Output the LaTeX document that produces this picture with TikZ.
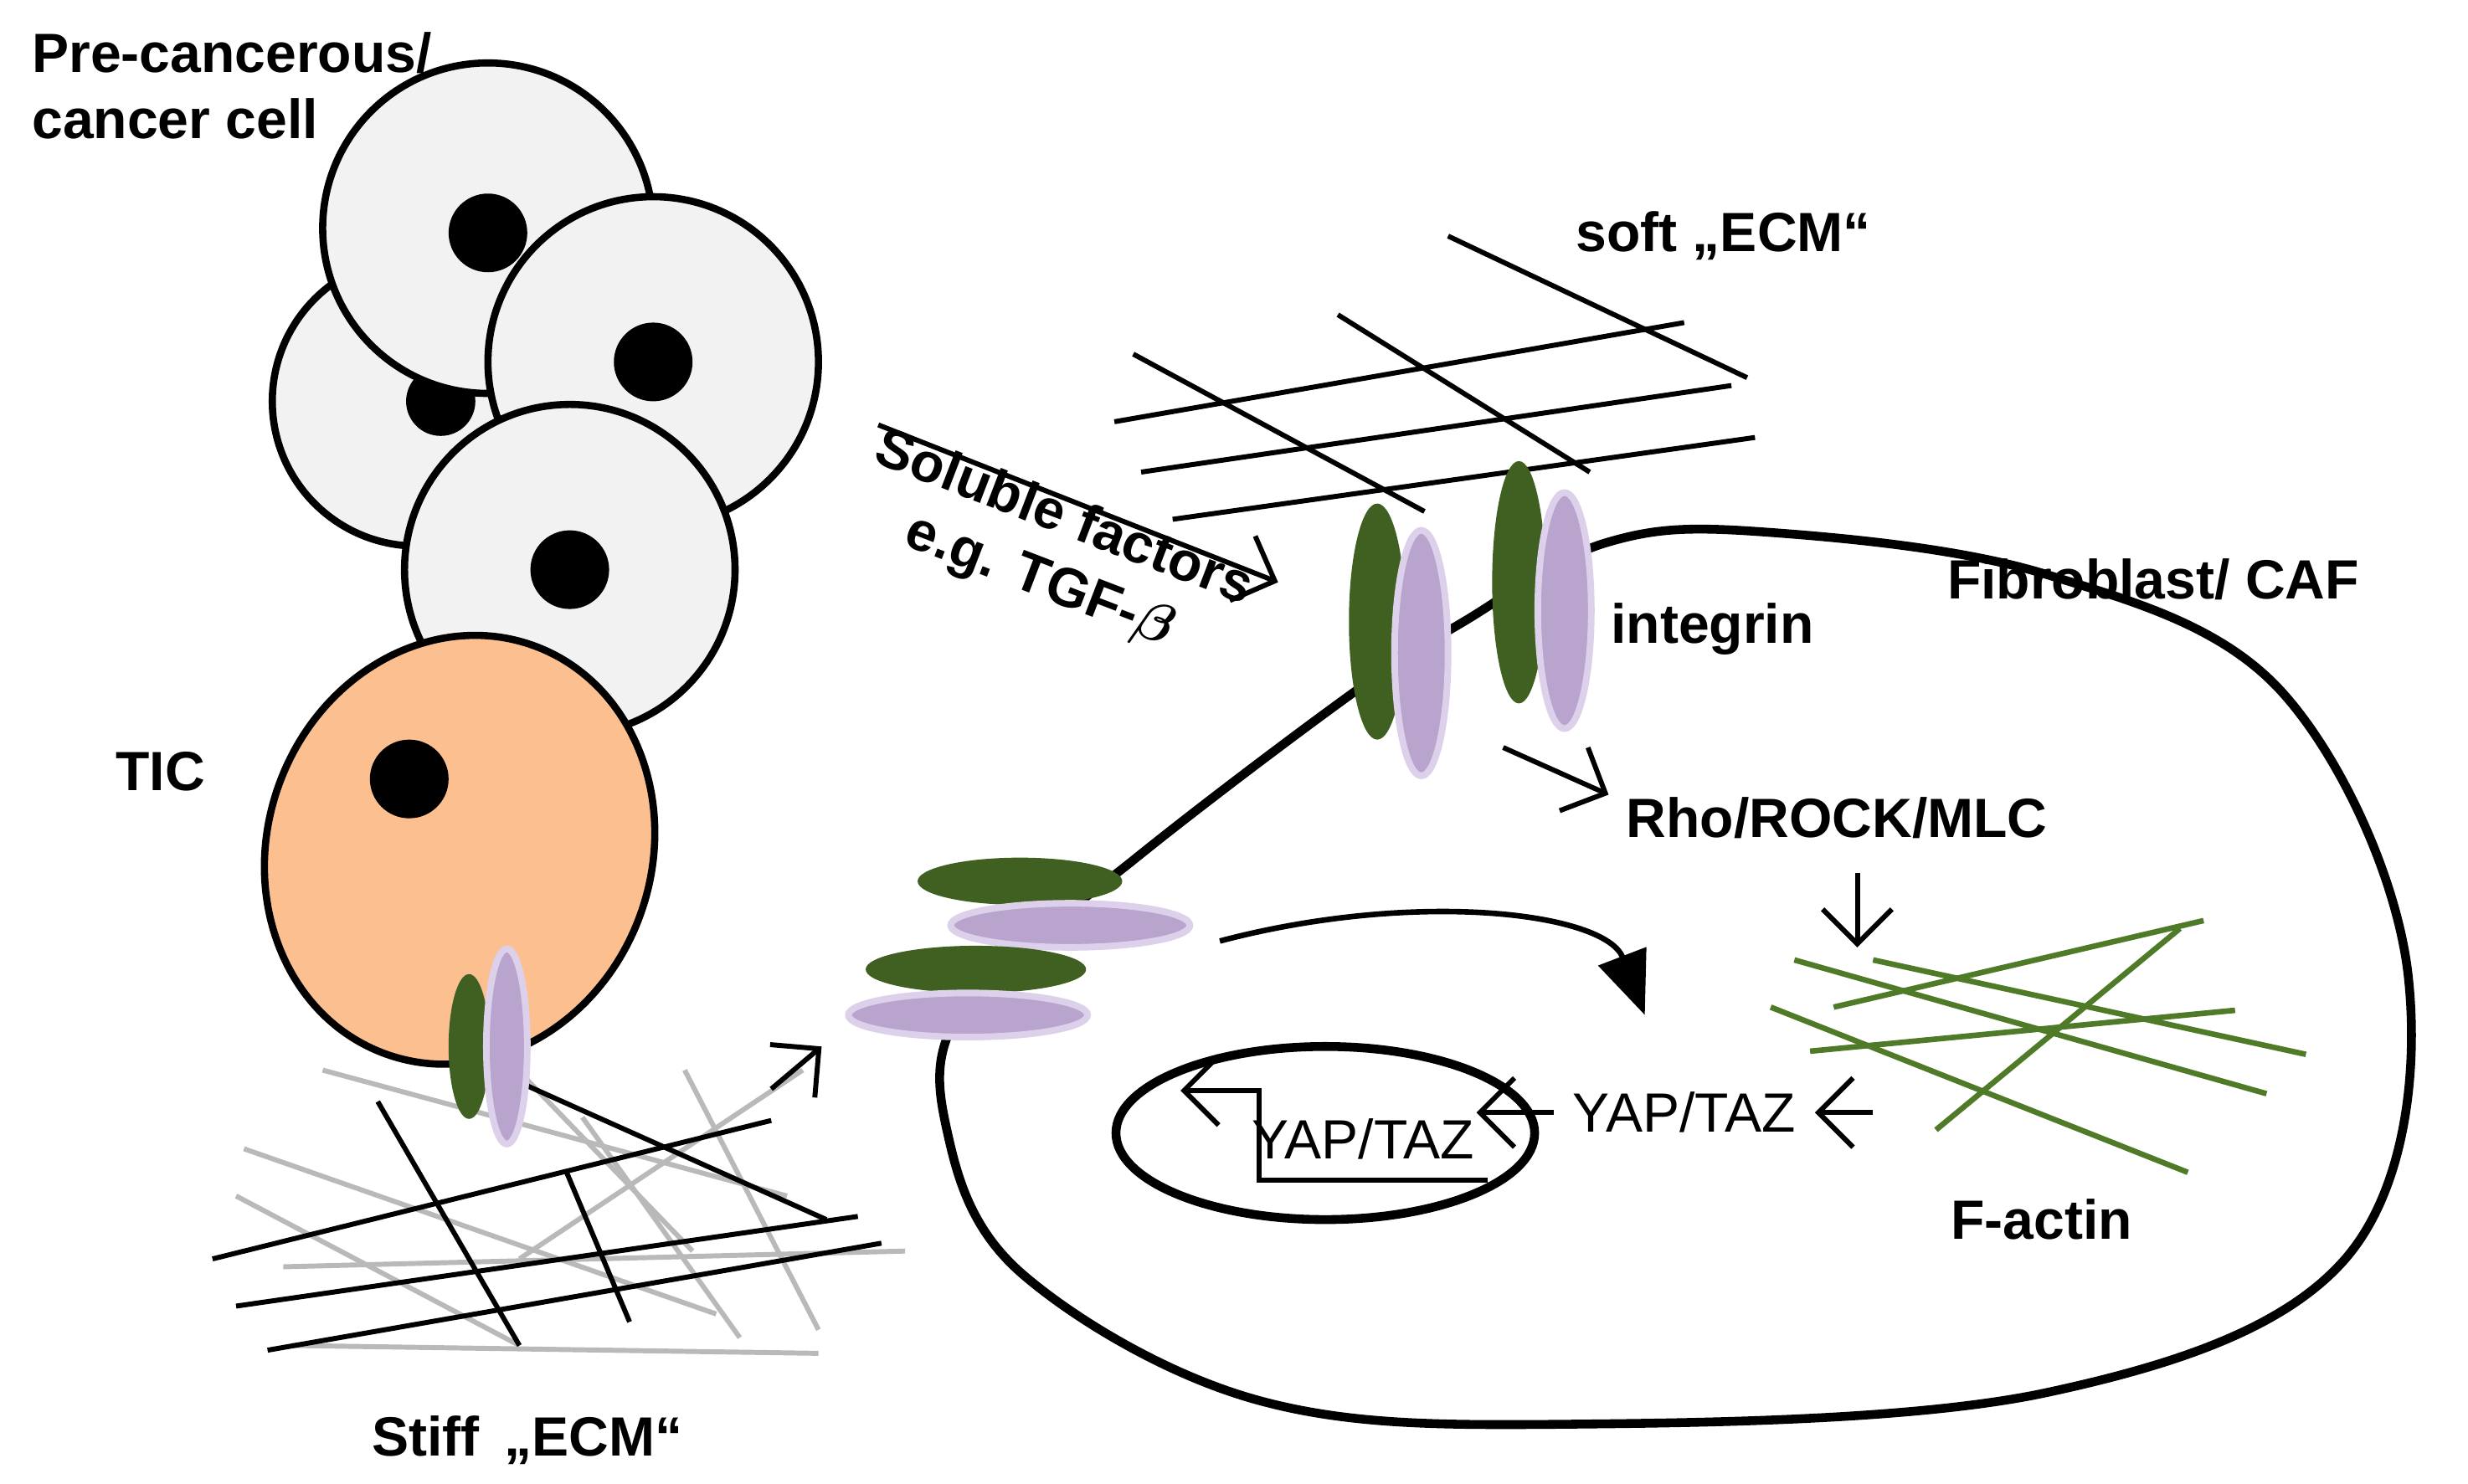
\documentclass[tikz,border=0pt]{standalone}
\usepackage{amsmath}
\usepackage{fontspec}
\setmainfont{Liberation Sans}
\usetikzlibrary{arrows.meta,positioning}
\definecolor{cellgray}{HTML}{F2F2F2}
\definecolor{ticorange}{HTML}{FCC090}
\definecolor{intgreen}{HTML}{3F6020}
\definecolor{intpurple}{HTML}{B8A4CC}
\definecolor{intedge}{HTML}{DCD0EA}
\definecolor{actin}{HTML}{4F7A28}
\tikzset{
  cell/.style={draw, line width=1.3pt, fill=cellgray},
  nucl/.style={fill=black},
  green int/.style={fill=intgreen},
  purple int/.style={fill=intpurple, draw=intedge, line width=1.2pt},
  lbl/.style={font=\fontsize{10}{12}\selectfont\bfseries, align=left},
  yap/.style={font=\fontsize{10}{12}\selectfont},
  arr/.style={-{Straight Barb[length=2.2mm]}, line width=0.9pt},
  ecm/.style={line width=0.9pt},
}
\begin{document}
\begin{tikzpicture}[x=0.1mm,y=-0.1mm]
    \useasboundingbox (0,0) rectangle (1568,943);
    % cancer cells
    \draw[cell] (265,255) circle[radius=92];
    \fill[nucl] (280,255) circle[radius=22];
    \draw[cell] (310,145) circle[radius=105];
    \fill[nucl] (310,148) circle[radius=25];
    \draw[cell] (415,230) circle[radius=105];
    \fill[nucl] (415,230) circle[radius=25];
    \draw[cell] (362,362) circle[radius=105];
    \fill[nucl] (362,362) circle[radius=25];
    \node[lbl, anchor=north west] (cancer) at (8,8) {Pre-cancerous/\\cancer cell};
    % TIC
    \draw[line width=1.3pt, fill=ticorange, rotate around={-20:(292,540)}] (292,540) ellipse[x radius=122, y radius=138];
    \fill[nucl] (260,495) circle[radius=25];
    \node[lbl] (tic) at (102,490) {TIC};
    % stiff ECM
    \foreach \xa/\ya/\xb/\yb in {205/680/500/760, 155/730/455/835, 300/650/440/795, 180/805/575/795, 150/760/330/855, 330/800/510/680, 185/855/520/860, 435/680/520/845, 370/710/470/850}
      \draw[ecm, gray!55] (\xa,\ya) -- (\xb,\yb);
    \foreach \xa/\ya/\xb/\yb in {135/800/490/712, 150/830/545/773, 170/858/560/790, 240/700/330/855, 335/690/525/775, 360/745/400/840}
      \draw[ecm] (\xa,\ya) -- (\xb,\yb);
    \fill[green int] (298,665) ellipse[x radius=13, y radius=46];
    \draw[purple int] (322,665) ellipse[x radius=13, y radius=62];
    \node[lbl] (stiff) at (335,915) {Stiff \,„ECM“};
    \coordinate (s1) at (490,692);
    \coordinate (s2) at (522,665);
    \draw[arr] (s1) -- (s2);
    % soft ECM
    \foreach \xa/\ya/\xb/\yb in {708/268/1070/205, 725/300/1100/245, 745/330/1115/278, 720/225/905/325, 850/200/1010/300, 920/150/1110/240}
      \draw[ecm] (\xa,\ya) -- (\xb,\yb);
    \node[lbl] (soft) at (1095,150) {soft „ECM“};
    % soluble factors
    \coordinate (f1) at (558,270);
    \coordinate (f2) at (812,370);
    \draw[arr] (f1) -- (f2);
    \node[lbl, rotate=-21, align=center] (sol) at (668,350) {Soluble factors\\e.g. TGF-$\boldsymbol{\beta}$};
    % fibroblast
    \draw[line width=1.6pt] plot[smooth cycle, tension=0.6] coordinates {(722,545) (860,440) (930,395) (1020,345) (1120,338) (1300,365) (1450,440) (1530,620) (1490,800) (1300,885) (1000,905) (800,890) (650,810) (602,720) (612,640)};
    \fill[green int] (875,395) ellipse[x radius=18, y radius=75];
    \draw[purple int] (903,415) ellipse[x radius=17, y radius=78];
    \fill[green int] (965,370) ellipse[x radius=17, y radius=77];
    \draw[purple int] (994,388) ellipse[x radius=17, y radius=75];
    \fill[green int] (648,560) ellipse[x radius=65, y radius=15];
    \draw[purple int] (680,588) ellipse[x radius=76, y radius=14];
    \fill[green int] (620,616) ellipse[x radius=70, y radius=15];
    \draw[purple int] (615,645) ellipse[x radius=76, y radius=14];
    \node[lbl] (caf) at (1368,368) {Fibroblast/ CAF};
    \node[lbl] (integrin) at (1088,400) {integrin};
    \coordinate (i1) at (955,475);
    \coordinate (i2) at (1022,505);
    \draw[arr] (i1) -- (i2);
    \node[lbl] (rho) at (1167,520) {Rho/ROCK/MLC};
    \coordinate (r1) at (1180,555);
    \coordinate (r2) at (1180,602);
    \draw[arr] (r1) -- (r2);
    % F-actin
    \foreach \xa/\ya/\xb/\yb in {1140/610/1440/695, 1165/640/1400/585, 1125/640/1390/745, 1230/718/1385/590, 1150/668/1420/642, 1190/610/1465/670}
      \draw[actin, line width=1pt] (\xa,\ya) -- (\xb,\yb);
    \node[lbl] (factin) at (1297,775) {F-actin};
    % YAP/TAZ
    \node[yap] (yap) at (1070,707) {YAP/TAZ};
    \coordinate (c1) at (775,598);
    \coordinate (c2) at (1045,645);
    \draw[line width=1pt, -{Triangle[length=4mm, width=3.2mm]}] (c1) .. controls (900,565) and (1020,580) .. (c2);
    \coordinate (a1) at (1190,707);
    \draw[arr] (a1) -- (yap.east);
    \draw[line width=1.6pt] (842,720) ellipse[x radius=133, y radius=55];
    \coordinate (nuc) at (938,707);
    \draw[arr] (yap.west) -- (nuc);
    \node[yap] (yapn) at (866,724) {YAP/TAZ};
    \coordinate (t0) at (945,750);
    \coordinate (t1) at (750,693);
    \draw[arr] (t0) -- (800,750) -- (800,693) -- (t1);
\end{tikzpicture}
\end{document}
